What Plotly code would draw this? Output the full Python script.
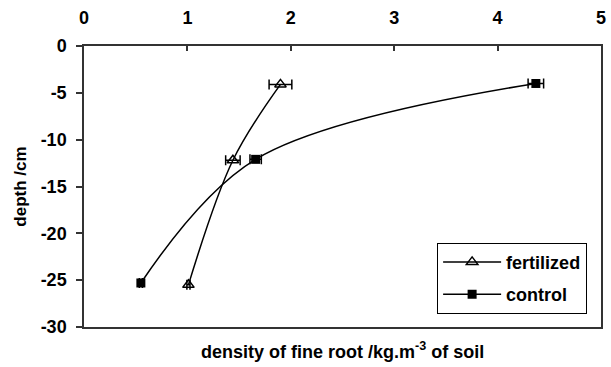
import plotly.graph_objects as go

# data
fert_x = [1.90, 1.44, 1.01]
fert_y = [-4.1, -12.2, -25.5]
fert_err = [0.11, 0.07, 0.015]

ctrl_x = [4.37, 1.66, 0.55]
ctrl_y = [-4.0, -12.1, -25.3]
ctrl_err = [0.075, 0.055, 0.015]

x_ticks = [0, 1, 2, 3, 4, 5]
y_ticks = [0, -5, -10, -15, -20, -25, -30]

FONT = "Liberation Sans, Arial, sans-serif"

fig = go.Figure()
fig.add_trace(go.Scatter(
    x=fert_x, y=fert_y, name="fertilized", mode="lines+markers", legendgroup="f",
    line=dict(color="black", width=1.5, shape="spline", smoothing=1),
    marker=dict(symbol="triangle-up-open", size=10, color="black", line=dict(width=1.5)),
    error_x=dict(type="data", array=fert_err, color="black", thickness=1.5, width=5),
))
fig.add_trace(go.Scatter(
    x=ctrl_x, y=ctrl_y, name="control", mode="lines+markers", legendgroup="c",
    line=dict(color="black", width=1.5, shape="spline", smoothing=1),
    marker=dict(symbol="square", size=9, color="black"),
    error_x=dict(type="data", array=ctrl_err, color="black", thickness=1.5, width=5),
))

fig.update_layout(
    width=611, height=367,
    margin=dict(l=84, r=5, t=46, b=40),
    plot_bgcolor="white", paper_bgcolor="white",
    font=dict(family=FONT, size=18, color="black", weight="bold"),
    xaxis=dict(
        range=[0, 5], side="top", tickvals=x_ticks, ticktext=[str(v) for v in x_ticks],
        ticks="inside", ticklen=5, tickwidth=1.5, tickcolor="#333",
        showline=True, linecolor="#333", linewidth=1.5, mirror=True,
        showgrid=False, zeroline=False, ticklabelstandoff=13,
        tickfont=dict(family=FONT, size=18, weight="bold"),
    ),
    yaxis=dict(
        range=[-30, 0], tickvals=y_ticks, ticktext=[str(v) for v in y_ticks],
        ticks="outside", ticklen=6, tickwidth=1.5, tickcolor="#333",
        showline=True, linecolor="#333", linewidth=1.5, mirror=True,
        showgrid=False, zeroline=False, ticklabelstandoff=6,
        tickfont=dict(family=FONT, size=18, weight="bold"),
        title=dict(text="depth /cm", font=dict(family=FONT, size=17, weight="bold"), standoff=10),
    ),
    legend=dict(
        x=0.683, y=0.30, xanchor="left", yanchor="top",
        bordercolor="black", borderwidth=1, bgcolor="white",
        font=dict(family=FONT, size=18, weight="bold"),
        traceorder="grouped", tracegroupgap=6, itemwidth=58,
    ),
    showlegend=True,
)

fig.add_annotation(
    text="density of fine root /kg.m<sup>-3</sup> of soil",
    xref="paper", yref="paper", x=0.5, y=-0.085, xanchor="center", yanchor="middle",
    showarrow=False, font=dict(family=FONT, size=18, weight="bold"),
)

fig.write_html("out.html")
